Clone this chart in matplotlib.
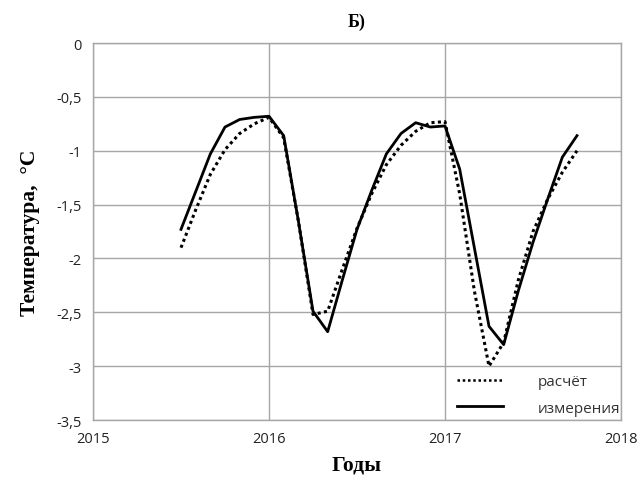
import numpy as np
import matplotlib
matplotlib.use("Agg")
import matplotlib.pyplot as plt

# monthly points, mid-2015 .. autumn 2017
months = np.arange(28)
years = 2015.5 + months / 12.0

measured = [-1.73, -1.38, -1.03, -0.78, -0.71, -0.69, -0.68,
            -0.86, -1.65, -2.49, -2.68, -2.20, -1.73, -1.37,
            -1.03, -0.84, -0.74, -0.78, -0.77, -1.17, -1.90,
            -2.63, -2.80, -2.30, -1.85, -1.45, -1.06, -0.86]

calc = [-1.90, -1.55, -1.22, -0.99, -0.84, -0.75, -0.69,
        -0.88, -1.65, -2.52, -2.49, -2.10, -1.72, -1.40,
        -1.13, -0.95, -0.82, -0.74, -0.73, -1.40, -2.30,
        -3.00, -2.78, -2.20, -1.75, -1.45, -1.20, -1.00]

xticks = [2015, 2016, 2017, 2018]
yticks = [0, -0.5, -1, -1.5, -2, -2.5, -3, -3.5]
ytick_labels = ["0", "-0,5", "-1", "-1,5", "-2", "-2,5", "-3", "-3,5"]

fig = plt.figure(figsize=(6.44, 4.81), dpi=100)
ax = fig.add_axes([0.1444, 0.1247, 0.8199, 0.7838])

ax.plot(years, calc, color="black", linestyle=(0, (1, 1.1)), linewidth=2.2, label="расчёт")
ax.plot(years, measured, color="black", linestyle="-", linewidth=2.0, label="измерения")

ax.set_xlim(2015, 2018)
ax.set_ylim(-3.5, 0)
ax.set_xticks(xticks)
ax.set_xticklabels([str(x) for x in xticks])
ax.set_yticks(yticks)
ax.set_yticklabels(ytick_labels)
ax.tick_params(length=0, labelsize=10.5, colors="#222222", pad=8)
for lbl in ax.get_xticklabels() + ax.get_yticklabels():
    lbl.set_family("Open Sans")

ax.grid(True, color="#a6a6a6", linewidth=1.0)
ax.set_axisbelow(True)
for side in ["left", "bottom", "top", "right"]:
    ax.spines[side].set_color("#a6a6a6")
    ax.spines[side].set_linewidth(1.0)

ax.set_title("Б)", fontsize=13, fontweight="bold", family="Liberation Serif", pad=12)
ax.set_ylabel("Температура,  °С", fontsize=15.5, fontweight="bold", family="Liberation Serif", labelpad=12)
ax.set_xlabel("Годы", fontsize=15.5, fontweight="bold", family="Liberation Serif", labelpad=6)

leg = ax.legend(loc="lower right", frameon=False, handlelength=3.0, handletextpad=2.3,
                prop={"family": "Open Sans", "size": 11}, borderaxespad=0.0,
                labelspacing=0.75, bbox_to_anchor=(1.01, -0.005))
leg.get_lines()[0].set_linewidth(1.8)
for t in leg.get_texts():
    t.set_color("#333333")

fig.savefig("out.png", dpi=100)
